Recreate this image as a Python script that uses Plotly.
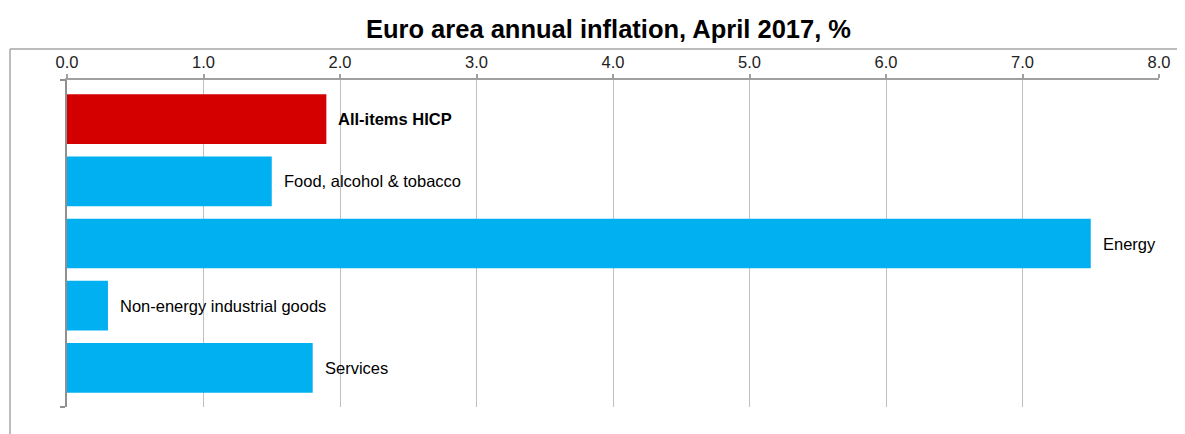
import plotly.graph_objects as go

categories = ["All-items HICP", "Food, alcohol & tobacco", "Energy",
              "Non-energy industrial goods", "Services"]
values = [1.9, 1.5, 7.5, 0.3, 1.8]
bar_colors = ["#D40000", "#00B0F0", "#00B0F0", "#00B0F0", "#00B0F0"]
bold_flags = [True, False, False, False, False]
x_ticks = [0, 1, 2, 3, 4, 5, 6, 7, 8]
title_text = "Euro area annual inflation, April 2017, %"

positions = list(range(len(categories)))

# page body has an 8px default margin, so the figure is sized/offset to fit
W, H = 1177, 426
L, R, T, B = 59, 26, 72, 27
PW, PH = W - L - R, H - T - B

fig = go.Figure()
fig.add_trace(go.Bar(
    x=values, y=positions, orientation="h",
    marker=dict(color=bar_colors, line=dict(width=0)),
    width=0.8, hoverinfo="x",
))

for i, (c, v, b) in enumerate(zip(categories, values, bold_flags)):
    fig.add_annotation(
        x=v, y=i, xref="x", yref="y",
        text=f"<b>{c}</b>" if b else c,
        showarrow=False, xanchor="left", yanchor="middle", xshift=10,
        font=dict(family="Liberation Sans, Arial, sans-serif", size=16.5, color="#000000"),
    )

# outer frame (cut off at right/bottom as in the reference)
fx = (2 - L) / PW
fy = 1 + (T - 41) / PH
fig.add_shape(type="line", xref="paper", yref="paper",
              x0=fx, x1=(W + 20 - L) / PW, y0=fy, y1=fy,
              line=dict(color="#A6A6A6", width=1.5))
fig.add_shape(type="line", xref="paper", yref="paper",
              x0=fx, x1=fx, y0=fy, y1=-0.2,
              line=dict(color="#A6A6A6", width=1.5))

fig.update_layout(
    width=W, height=H,
    margin=dict(l=L, r=R, t=T, b=B, autoexpand=False),
    paper_bgcolor="white", plot_bgcolor="white",
    showlegend=False,
    title=dict(text=f"<b>{title_text}</b>", x=(608.5 - 8 - L) / PW, xref="paper",
               y=1 - 21 / H, yref="container", yanchor="middle", xanchor="center",
               font=dict(family="Liberation Sans, Arial, sans-serif", size=25.5, color="#000000")),
    font=dict(family="Liberation Sans, Arial, sans-serif", size=16, color="#222222"),
)
fig.update_xaxes(
    side="top", range=[0, 8], tickvals=x_ticks,
    tickformat=".1f", showgrid=True, gridcolor="#C0C0C0", gridwidth=1,
    showline=True, linecolor="#A0A0A0", linewidth=1.5,
    ticks="outside", ticklen=4, tickcolor="#A0A0A0", tickwidth=1.5,
    zeroline=False, ticklabelstandoff=0,
    tickfont=dict(size=16.5, color="#222222"),
)
fig.update_yaxes(
    range=[4.63, -0.63], showticklabels=False, showgrid=False, zeroline=False,
    showline=True, linecolor="#909090", linewidth=1.5,
    ticks="outside", ticklen=5, tickcolor="#909090", tickwidth=1.5,
    tickvals=[-0.63, 4.63],
)

fig.write_html("out.html")
